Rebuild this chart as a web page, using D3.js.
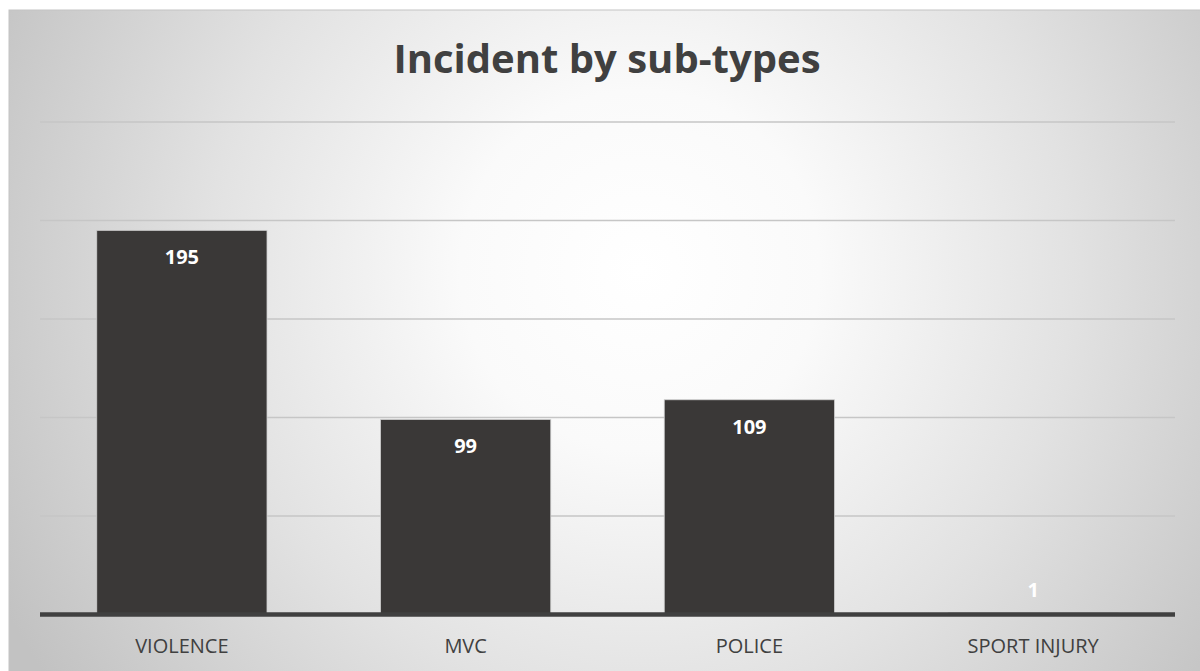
<!DOCTYPE html>
<html>
<head>
<meta charset="utf-8">
<script src="https://cdn.jsdelivr.net/npm/d3@7"></script>
<style>
  html, body { margin: 0; padding: 0; background: #ffffff; }
  svg { display: block; font-family: "Open Sans", sans-serif; }
</style>
</head>
<body>
<div id="chart"></div>
<script>
const categories = ["VIOLENCE", "MVC", "POLICE", "SPORT INJURY"];
const counts = [195, 99, 109, 1];
const gridValues = [50, 100, 150, 200, 250];
const chartTitle = "Incident by sub-types";

function renderChart() {
  const width = 1200;
  const height = 671;
  const frame = { x: 9, y: 10 };
  const margin = { top: 122, left: 40, right: 25 };
  const baseY = 614.5;

  const svg = d3
    .select("#chart")
    .append("svg")
    .attr("width", width)
    .attr("height", height);

  const defs = svg.append("defs");
  const grad = defs
    .append("radialGradient")
    .attr("id", "bg")
    .attr("gradientUnits", "userSpaceOnUse")
    .attr("cx", 640)
    .attr("cy", 270)
    .attr("r", 720);
  grad.append("stop").attr("offset", "0%").attr("stop-color", "#ffffff");
  grad.append("stop").attr("offset", "25%").attr("stop-color", "#fafafa");
  grad.append("stop").attr("offset", "60%").attr("stop-color", "#e2e2e2");
  grad.append("stop").attr("offset", "100%").attr("stop-color", "#c2c2c2");

  svg
    .append("rect")
    .attr("x", frame.x)
    .attr("y", frame.y)
    .attr("width", width - frame.x + 2)
    .attr("height", height - frame.y + 2)
    .attr("fill", "url(#bg)")
    .attr("stroke", "#c4c4c4")
    .attr("stroke-width", 1);

  svg
    .append("text")
    .attr("x", 607)
    .attr("y", 73)
    .attr("text-anchor", "middle")
    .style("font-size", "40px")
    .style("font-weight", "bold")
    .style("fill", "#404040")
    .text(chartTitle);

  const innerW = width - margin.left - margin.right;

  const x = d3
    .scaleBand()
    .domain(categories)
    .range([margin.left, margin.left + innerW])
    .paddingInner(0.4)
    .paddingOuter(0.2);

  const y = d3
    .scaleLinear()
    .domain([0, 250])
    .range([baseY, margin.top]);

  // gridlines
  svg
    .append("g")
    .selectAll("line")
    .data(gridValues)
    .join("line")
    .attr("x1", margin.left)
    .attr("x2", margin.left + innerW)
    .attr("y1", (d) => y(d))
    .attr("y2", (d) => y(d))
    .attr("stroke", "#c6c6c6")
    .attr("stroke-width", 1.3);

  // bars
  svg
    .append("g")
    .selectAll("rect")
    .data(counts)
    .join("rect")
    .attr("x", (d, i) => x(categories[i]))
    .attr("y", (d) => y(d))
    .attr("width", x.bandwidth())
    .attr("height", (d) => baseY - y(d))
    .attr("fill", "#3a3837")
    .attr("stroke", "#cfcfcf")
    .attr("stroke-width", 0.8);

  // value labels (inside end, pushed above the axis when the bar is too short)
  svg
    .append("g")
    .selectAll("text")
    .data(counts)
    .join("text")
    .attr("x", (d, i) => x(categories[i]) + x.bandwidth() / 2)
    .attr("y", (d) => Math.min(y(d) + 34, baseY - 18))
    .attr("text-anchor", "middle")
    .style("font-size", "20px")
    .style("font-weight", "bold")
    .style("fill", "#ffffff")
    .text((d) => d);

  // x axis
  const xAxis = svg
    .append("g")
    .attr("transform", "translate(0," + baseY + ")")
    .call(d3.axisBottom(x).tickSize(0).tickPadding(0));

  xAxis.select(".domain").remove();
  xAxis
    .append("line")
    .attr("x1", margin.left)
    .attr("x2", margin.left + innerW)
    .attr("y1", 0)
    .attr("y2", 0)
    .attr("stroke", "#404040")
    .attr("stroke-width", 4.5);

  xAxis
    .selectAll(".tick text")
    .attr("dy", 0)
    .attr("y", 38.5)
    .style("font-family", "'Open Sans', sans-serif")
    .style("font-size", "20px")
    .style("fill", "#404040");
}

renderChart();
</script>
</body>
</html>
